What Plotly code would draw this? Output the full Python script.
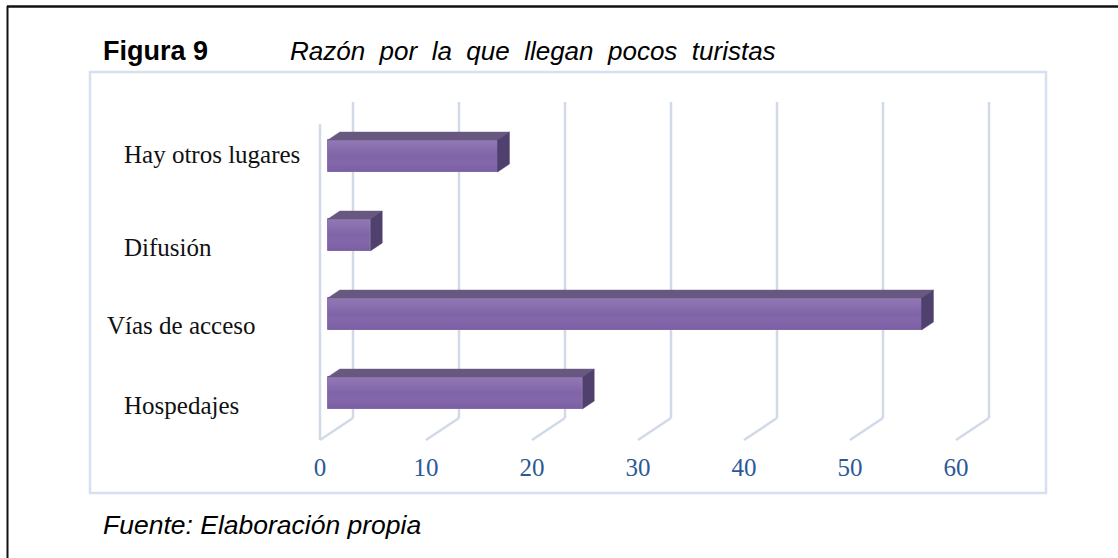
import plotly.graph_objects as go

# ---------------- data ----------------
categories = ["Hospedajes", "Vías de acceso", "Difusión", "Hay otros lugares"]
values = [24, 56, 4, 16]
x_ticks = [0, 10, 20, 30, 40, 50, 60]

fig_label = "Figura 9"
fig_title = "Razón\u00a0 por\u00a0 la\u00a0 que\u00a0 llegan\u00a0 pocos\u00a0 turistas"
source_text = "Fuente: Elaboración propia"

# ---------------- geometry (pixels -> axis units) ----------------
W, H = 1118, 558
MB = 108
PH = H - MB
SX = 10.6          # px per value unit
SY = 79.0          # px per category step
X0_PX = 320        # px of value 0 on front plane
Y0_PX = 393        # px of first category centre

x_range = [-X0_PX / SX, (W - X0_PX) / SX]
y_range = [(Y0_PX - PH) / SY, Y0_PX / SY]

DX = 33 / SX       # full depth offset (x)
DY = 22 / SY       # full depth offset (y)
F1, F2 = 0.24, 0.60
BAR_H = 32 / SY
FLOOR_F = (Y0_PX - 440) / SY
TOP_B = (Y0_PX - 102) / SY


def px(xp):
    return xp / W


def py(yp):
    return (PH - yp) / PH


grid_col = "#D1DAE7"
shapes = []
for v in x_ticks:
    shapes.append(dict(type="line", xref="x", yref="y", layer="below",
                       x0=v, y0=FLOOR_F, x1=v + DX, y1=FLOOR_F + DY,
                       line=dict(color=grid_col, width=2.5)))
    shapes.append(dict(type="line", xref="x", yref="y", layer="below",
                       x0=v + DX, y0=FLOOR_F + DY, x1=v + DX, y1=TOP_B,
                       line=dict(color=grid_col, width=2.5)))
shapes.append(dict(type="line", xref="x", yref="y", layer="below",
                   x0=x_ticks[0], y0=FLOOR_F, x1=x_ticks[0], y1=TOP_B - DY,
                   line=dict(color=grid_col, width=2.5)))
# inner chart frame
shapes.append(dict(type="rect", xref="paper", yref="paper",
                   x0=px(90), y0=py(72), x1=px(1046), y1=py(493),
                   line=dict(color="#D5E1F0", width=2.5)))
# outer page border
shapes.append(dict(type="line", xref="paper", yref="paper",
                   x0=px(7), y0=py(6.5), x1=px(1118), y1=py(6.5),
                   line=dict(color="#111111", width=2.5)))
shapes.append(dict(type="line", xref="paper", yref="paper",
                   x0=px(7.5), y0=py(6), x1=px(7.5), y1=py(558),
                   line=dict(color="#111111", width=2)))

ypos = list(range(len(categories)))
base = F1 * DX
ddx = (F2 - F1) * DX
ddy = (F2 - F1) * DY
h = BAR_H / 2

fig = go.Figure()
fig.add_trace(go.Bar(
    y=ypos, x=values, base=base, orientation="h", width=BAR_H,
    marker=dict(color="#8064A8", line=dict(color="#8A72B0", width=1)),
    hoverinfo="skip", showlegend=False))

# soft vertical shading on each front face
for yi, v in zip(ypos, values):
    xa, xb = base, base + v
    fig.add_trace(go.Scatter(
        x=[xa, xb, xb, xa, xa], y=[yi - h, yi - h, yi + h, yi + h, yi - h],
        fill="toself", mode="none",
        fillgradient=dict(type="vertical",
                          colorscale=[[0, "rgba(60,20,110,0.10)"],
                                      [0.5, "rgba(255,255,255,0.0)"],
                                      [1, "rgba(255,255,255,0.14)"]]),
        hoverinfo="skip", showlegend=False))

top_x, top_y, side_x, side_y = [], [], [], []
for yi, v in zip(ypos, values):
    xa, xb = base, base + v
    top_x += [xa, xb, xb + ddx, xa + ddx, xa, None]
    top_y += [yi + h, yi + h, yi + h + ddy, yi + h + ddy, yi + h, None]
    side_x += [xb, xb + ddx, xb + ddx, xb, xb, None]
    side_y += [yi - h, yi - h + ddy, yi + h + ddy, yi + h, yi - h, None]

fig.add_trace(go.Scatter(x=top_x, y=top_y, fill="toself", mode="lines",
                         line=dict(color="#6A5A84", width=0.5),
                         fillcolor="#685880", hoverinfo="skip", showlegend=False))
fig.add_trace(go.Scatter(x=side_x, y=side_y, fill="toself", mode="lines",
                         line=dict(color="#4E3E6C", width=0.5),
                         fillcolor="#50406E", hoverinfo="skip", showlegend=False))

label_left_px = [122, 105, 122, 122]
label_y_px = [405, 325, 247, 154]
annotations = []
for name, lx, ly in zip(categories, label_left_px, label_y_px):
    annotations.append(dict(text=name, xref="paper", yref="paper",
                            x=px(lx), y=py(ly), xanchor="left", yanchor="middle",
                            showarrow=False,
                            font=dict(family="Liberation Serif", size=25, color="#111111")))

annotations.append(dict(text="<b>" + fig_label + "</b>", xref="paper", yref="paper",
                        x=px(101), y=py(51), xanchor="left", yanchor="middle",
                        showarrow=False,
                        font=dict(family="Liberation Sans", size=27, color="#000000")))
annotations.append(dict(text="<i>" + fig_title + "</i>", xref="paper", yref="paper",
                        x=px(288), y=py(51), xanchor="left", yanchor="middle",
                        showarrow=False,
                        font=dict(family="Liberation Sans", size=26, color="#000000")))
annotations.append(dict(text="<i>" + source_text + "</i>", xref="paper", yref="paper",
                        x=px(101), y=py(525), xanchor="left", yanchor="middle",
                        showarrow=False,
                        font=dict(family="Liberation Sans", size=26.5, color="#000000")))

fig.update_layout(
    width=W, height=H,
    margin=dict(l=0, r=0, t=0, b=MB, pad=0),
    paper_bgcolor="white", plot_bgcolor="white",
    shapes=shapes, annotations=annotations,
    bargap=0,
    xaxis=dict(range=x_range, tickvals=x_ticks, ticktext=[str(t) for t in x_ticks],
               showgrid=False, zeroline=False, showline=False, ticks="",
               tickfont=dict(family="Liberation Serif", size=25, color="#2A5A96"),
               fixedrange=True),
    yaxis=dict(range=y_range, showgrid=False, zeroline=False, showline=False,
               showticklabels=False, ticks="", fixedrange=True),
)

fig.write_html("out.html",
               config={"displayModeBar": False},
               post_script="document.body.style.margin='0px';"
                           "document.body.style.overflow='hidden';")
